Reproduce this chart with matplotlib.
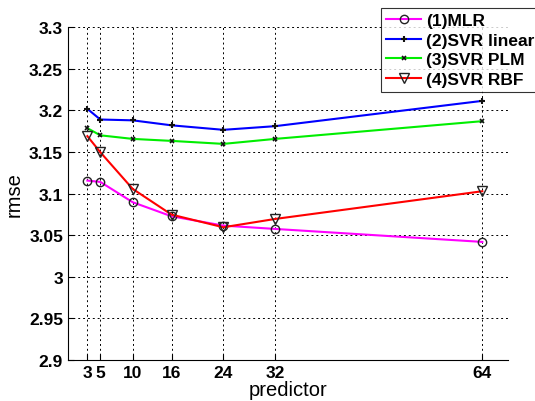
import matplotlib

matplotlib.use("Agg")
import matplotlib.pyplot as plt

plt.rcParams["font.family"] = ["Liberation Sans", "DejaVu Sans"]

predictors = [3, 5, 10, 16, 24, 32, 64]
x_ticks = [3, 5, 10, 16, 24, 32, 64]
x_tick_labels = ["3", "5", "10", "16", "24", "32", "64"]
y_ticks = [2.9, 2.95, 3.0, 3.05, 3.1, 3.15, 3.2, 3.25, 3.3]
y_tick_labels = ["2.9", "2.95", "3", "3.05", "3.1", "3.15", "3.2", "3.25", "3.3"]

mlr = [3.1156, 3.1140, 3.0896, 3.0727, 3.0615, 3.0575, 3.0419]
svr_linear = [3.2018, 3.1890, 3.1880, 3.1820, 3.1766, 3.1810, 3.2114]
svr_plm = [3.1786, 3.1700, 3.1657, 3.1633, 3.1597, 3.1657, 3.1870]
svr_rbf = [3.1690, 3.1497, 3.1056, 3.0747, 3.0595, 3.0695, 3.1028]

fig = plt.figure(figsize=(5.35, 4.02), dpi=100)
ax = fig.add_axes([0.127, 0.102, 0.823, 0.828])

ax.plot(predictors, mlr, color="#ff00ff", lw=1.5, marker="o", ms=6,
        mfc="none", mec="#222222", mew=1.0, label="(1)MLR")
ax.plot(predictors, svr_linear, color="#0000ff", lw=1.5, marker="+", ms=5,
        mec="#111111", mew=1.5, label="(2)SVR linear")
ax.plot(predictors, svr_plm, color="#00ee00", lw=1.5, marker="x", ms=3,
        mec="#111111", mew=1.2, label="(3)SVR PLM")
ax.plot(predictors, svr_rbf, color="#ff0000", lw=1.5, marker="v", ms=7,
        mfc="none", mec="#222222", mew=1.0, label="(4)SVR RBF")

ax.set_xlim(0, 68)
ax.set_ylim(2.9, 3.3)
ax.set_xticks(x_ticks)
ax.set_xticklabels(x_tick_labels, fontsize=12.5, fontweight="bold")
ax.set_yticks(y_ticks)
ax.set_yticklabels(y_tick_labels, fontsize=12.5, fontweight="bold")
ax.tick_params(direction="in", length=4, width=0.8, top=False, right=False)
ax.grid(True, linestyle=(0, (2, 3)), color="black", linewidth=0.7)
for sp in ax.spines.values():
    sp.set_linewidth(0.8)
ax.spines["top"].set_visible(False)
ax.spines["right"].set_visible(False)

ax.set_xlabel("predictor", fontsize=14.5, labelpad=0)
ax.set_ylabel("rmse", fontsize=14.5, labelpad=4)

leg = fig.legend(loc="upper left", bbox_to_anchor=(381 / 535, 1 - 9 / 402),
                 prop={"size": 12.5, "weight": "bold"}, frameon=True,
                 fancybox=False, handlelength=2.0, handletextpad=0.3,
                 borderpad=0.3, labelspacing=0.25, borderaxespad=0)
leg.get_frame().set_edgecolor("black")
leg.get_frame().set_linewidth(0.8)

fig.savefig("out.png", dpi=100)
